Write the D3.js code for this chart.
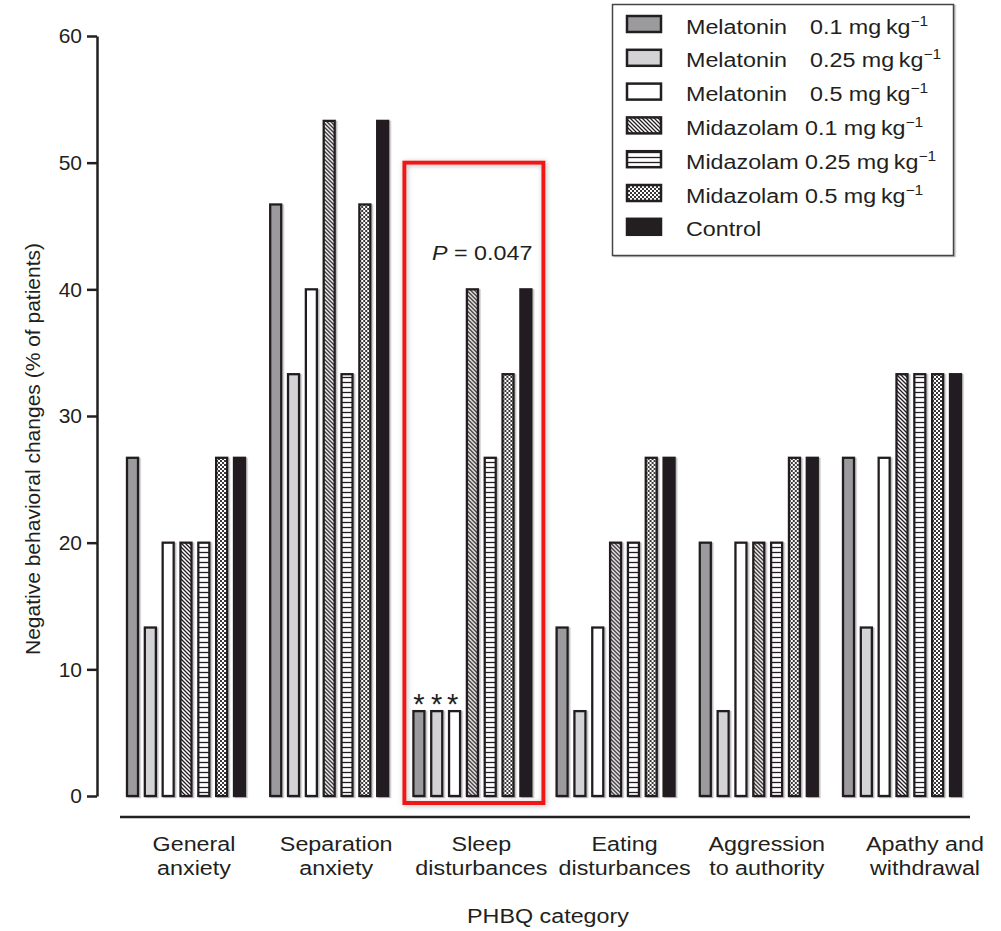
<!DOCTYPE html>
<html>
<head>
<meta charset="utf-8">
<script src="https://cdn.jsdelivr.net/npm/d3@7"></script>
<style>
  body { margin: 0; background: #fff; }
  svg { display: block; font-family: "Liberation Sans", Arial, sans-serif; }
</style>
</head>
<body>
<script>
// categories on the x axis (each split over two lines)
const categories = ["General anxiety", "Separation anxiety", "Sleep disturbances",
                    "Eating disturbances", "Aggression to authority", "Apathy and withdrawal"];
const categoryLines = [["General", "anxiety"], ["Separation", "anxiety"], ["Sleep", "disturbances"],
                       ["Eating", "disturbances"], ["Aggression", "to authority"], ["Apathy and", "withdrawal"]];

// % of patients, one value per category
const melatonin01  = [26.7, 46.7, 6.7, 13.3, 20, 26.7];
const melatonin025 = [13.3, 33.3, 6.7, 6.7, 6.7, 13.3];
const melatonin05  = [20, 40, 6.7, 13.3, 20, 26.7];
const midazolam01  = [20, 53.3, 40, 20, 20, 33.3];
const midazolam025 = [20, 33.3, 26.7, 20, 20, 33.3];
const midazolam05  = [26.7, 46.7, 33.3, 26.7, 26.7, 33.3];
const control      = [26.7, 53.3, 40, 26.7, 26.7, 33.3];

const seriesDrug = ["Melatonin", "Melatonin", "Melatonin", "Midazolam", "Midazolam", "Midazolam", "Control"];
const seriesDose = ["0.1", "0.25", "0.5", "0.1", "0.25", "0.5", ""];
const seriesValues = [melatonin01, melatonin025, melatonin05, midazolam01, midazolam025, midazolam05, control];

const yTicks = [0, 10, 20, 30, 40, 50, 60];

// significance marks over the sleep disturbances group
const markedCategory = "Sleep disturbances";
const sleepStars = ["*", "*", "*", "", "", "", ""];
const pValue = "0.047";

const W = 1001, H = 931;
const ink = "#231f20";
const sx = 1.11;   // text in the picture is a bit wide

const svg = d3.select("body").append("svg").attr("width", W).attr("height", H);
const defs = svg.append("defs");

// fills
let p = defs.append("pattern").attr("id", "diag").attr("patternUnits", "userSpaceOnUse")
  .attr("width", 4).attr("height", 4);
p.append("rect").attr("width", 4).attr("height", 4).attr("fill", "#fff");
p.append("path").attr("d", "M-1,-1L5,5M-1,3L1,5M3,-1L5,1").attr("stroke", ink).attr("stroke-width", 1.3);

p = defs.append("pattern").attr("id", "horiz").attr("patternUnits", "userSpaceOnUse")
  .attr("width", 5).attr("height", 5);
p.append("rect").attr("width", 5).attr("height", 5).attr("fill", "#fff");
p.append("path").attr("d", "M0,2.5H5").attr("stroke", ink).attr("stroke-width", 1.3);

p = defs.append("pattern").attr("id", "check").attr("patternUnits", "userSpaceOnUse")
  .attr("width", 4).attr("height", 4);
p.append("rect").attr("width", 4).attr("height", 4).attr("fill", "#3a3738");
p.append("rect").attr("width", 2).attr("height", 2).attr("fill", "#fff");
p.append("rect").attr("x", 2).attr("y", 2).attr("width", 2).attr("height", 2).attr("fill", "#fff");

const fills = ["#9b9a9c", "#d3d3d5", "#fff", "url(#diag)", "url(#horiz)", "url(#check)", ink];

const sh = defs.append("filter").attr("id", "shadow").attr("x", "-20%").attr("y", "-5%")
  .attr("width", "160%").attr("height", "110%");
sh.append("feDropShadow").attr("dx", 1.5).attr("dy", 1).attr("stdDeviation", 0.7)
  .attr("flood-color", "#777").attr("flood-opacity", 0.5);

const glow = defs.append("filter").attr("id", "glow").attr("x", "-10%").attr("y", "-5%")
  .attr("width", "120%").attr("height", "110%");
glow.append("feDropShadow").attr("dx", 1).attr("dy", 1).attr("stdDeviation", 2.5)
  .attr("flood-color", "#888").attr("flood-opacity", 0.6);

// scales
const x0 = d3.scaleBand().domain(categories).range([126, 962]).paddingInner(0.162);
const x1 = d3.scaleBand().domain(d3.range(seriesValues.length)).range([0, x0.bandwidth()]).paddingInner(0.27);
const y = d3.scaleLinear().domain([0, 60]).range([796, 36]);

// y axis
const yAxis = svg.append("g").attr("transform", "translate(97,0)")
  .call(d3.axisLeft(y).tickValues(yTicks).tickSize(10).tickSizeOuter(0).tickPadding(5));
yAxis.select(".domain").attr("stroke", ink).attr("stroke-width", 2.5);
yAxis.selectAll(".tick line").attr("stroke", ink).attr("stroke-width", 2.5);
yAxis.selectAll(".tick text").attr("fill", ink).attr("font-size", 21)
  .attr("font-family", '"Liberation Sans", Arial, sans-serif');

svg.append("text")
  .attr("transform", "translate(40,449) rotate(-90)")
  .attr("text-anchor", "middle").attr("font-size", 21).attr("fill", ink)
  .text("Negative behavioral changes (% of patients)");

// x baseline
svg.append("line").attr("x1", 120).attr("x2", 970).attr("y1", 817).attr("y2", 817)
  .attr("stroke", ink).attr("stroke-width", 2.5);

// bars
const groups = svg.append("g").selectAll("g").data(categories).join("g")
  .attr("transform", d => `translate(${x0(d)},0)`);

groups.selectAll("rect")
  .data((c, j) => seriesValues.map((vals, i) => ({ i: i, v: vals[j] })))
  .join("rect")
  .attr("x", d => x1(d.i) + 1)
  .attr("width", x1.bandwidth() - 2)
  .attr("y", d => y(d.v))
  .attr("height", d => y(0) - y(d.v))
  .attr("fill", d => fills[d.i])
  .attr("stroke", ink).attr("stroke-width", 2.3)
  .attr("filter", "url(#shadow)");

// category labels
const labelDx = [8, 7, 9, 9, 8, 23];
categories.forEach((c, j) => {
  const t = svg.append("text")
    .attr("transform", `translate(${x0(c) + x0.bandwidth() / 2 + labelDx[j]},851) scale(${sx},1)`)
    .attr("text-anchor", "middle").attr("font-size", 21).attr("fill", ink);
  categoryLines[j].forEach((line, k) => {
    t.append("tspan").attr("x", 0).attr("dy", k === 0 ? 0 : 24).text(line);
  });
});

svg.append("text")
  .attr("transform", `translate(548,923) scale(${sx},1)`)
  .attr("text-anchor", "middle").attr("font-size", 21).attr("fill", ink)
  .text("PHBQ category");

// highlight box around sleep disturbances
const jm = categories.indexOf(markedCategory);
svg.append("rect")
  .attr("x", x0(markedCategory) - 8).attr("y", y(50))
  .attr("width", x0.bandwidth() + 19).attr("height", y(0) + 7 - y(50))
  .attr("fill", "none").attr("stroke", "#f01616").attr("stroke-width", 4)
  .attr("filter", "url(#glow)");

sleepStars.forEach((s, i) => {
  if (!s) return;
  svg.append("text")
    .attr("x", x0(markedCategory) + x1(i) + x1.bandwidth() / 2 - (i === 2 ? 2 : 0))
    .attr("y", y(seriesValues[i][jm]) + 3)
    .attr("text-anchor", "middle").attr("font-size", 29).attr("fill", ink)
    .text(s);
});

const pt = svg.append("text")
  .attr("transform", `translate(${x0(markedCategory) + x0.bandwidth()},260) scale(${sx},1)`)
  .attr("text-anchor", "end").attr("font-size", 21).attr("fill", ink);
pt.append("tspan").attr("font-style", "italic").text("P");
pt.append("tspan").text(" = " + pValue);

// legend
const legend = svg.append("g");
legend.append("rect").attr("x", 612.5).attr("y", 4.5).attr("width", 341).attr("height", 251)
  .attr("fill", "#fff").attr("stroke", "#444").attr("stroke-width", 1.5)
  .attr("filter", "url(#shadow)");

seriesDrug.forEach((name, i) => {
  const cy = 24 + i * 33.8;
  legend.append("rect").attr("x", 627).attr("y", cy - 8).attr("width", 34).attr("height", 16)
    .attr("fill", fills[i]).attr("stroke", ink).attr("stroke-width", 2.5);
  const t = legend.append("text")
    .attr("transform", `translate(686,${cy + 9.5}) scale(${sx},1)`)
    .attr("font-size", 21).attr("fill", ink);
  t.append("tspan").text(name);
  if (seriesDose[i]) {
    const dx = name === "Melatonin" ? (810 - 686) / sx : (805 - 686) / sx;
    t.append("tspan").attr("x", dx).text(seriesDose[i] + " mg\u2009kg");
    t.append("tspan").attr("dy", -8).attr("font-size", 14).text("\u22121");
  }
});
</script>
</body>
</html>
